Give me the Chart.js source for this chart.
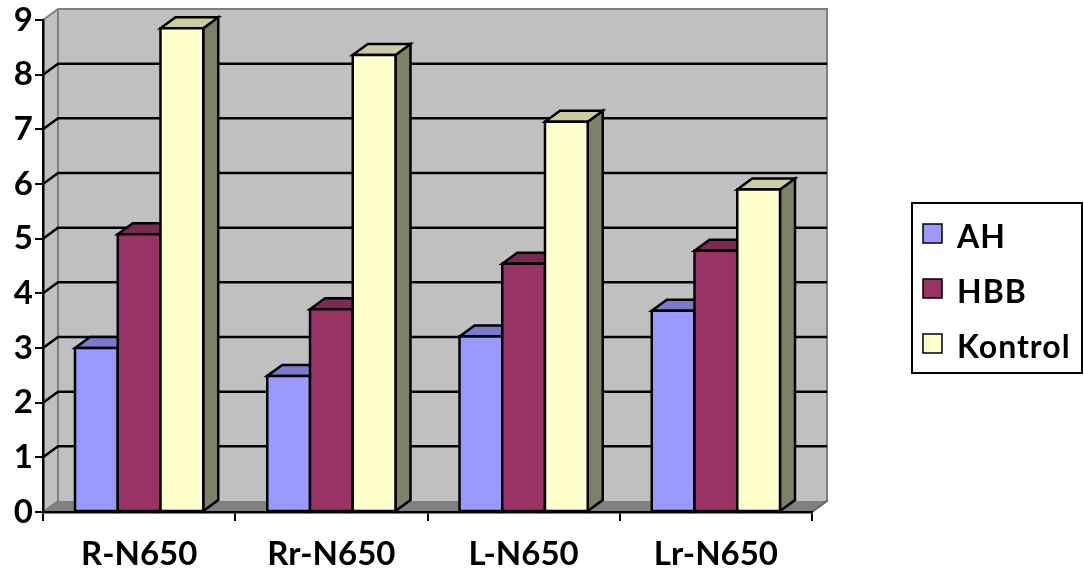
<!DOCTYPE html>
<html>
<head>
<meta charset="utf-8">
<script src="https://cdn.jsdelivr.net/npm/chart.js@4.4.1/dist/chart.umd.min.js"></script>
<style>
  html, body { margin: 0; padding: 0; background: #ffffff; }
  #wrap { width: 1084px; height: 574px; position: relative; }
</style>
</head>
<body>
<div id="wrap"><canvas id="chart" width="1084" height="574"></canvas></div>
<script>
// Category labels and series values
const categories = ['R-N650', 'Rr-N650', 'L-N650', 'Lr-N650'];
const seriesNames = ['AH', 'HBB', 'Kontrol'];
const ahValues = [3.0, 2.49, 3.21, 3.68];
const hbbValues = [5.08, 3.71, 4.54, 4.78];
const kontrolValues = [8.85, 8.36, 7.14, 5.90];
const yTickValues = [0, 1, 2, 3, 4, 5, 6, 7, 8, 9];

// Face colours for each series: front, top, side
const frontColors = ['#9999ff', '#993366', '#ffffcc'];
const topColors = ['#7a7acc', '#7a2952', '#cccca3'];
const sideColors = ['#4d4d80', '#4d1a33', '#808066'];

const FONT = { family: 'Lato', weight: 'bold', size: 33 };
const Y_FONT = { family: 'Lato', weight: 'bold', size: 33, lineHeight: 1.0 };
const LEGEND_FONT = { family: 'Lato', weight: 'bold', size: 32 };
const DEPTH_X = 15;
const DEPTH_Y = 11;

function poly(ctx, pts) {
  ctx.beginPath();
  ctx.moveTo(pts[0][0], pts[0][1]);
  for (let i = 1; i < pts.length; i++) ctx.lineTo(pts[i][0], pts[i][1]);
  ctx.closePath();
}

// Back wall, side wall, floor and back-wall gridlines
const wallsPlugin = {
  id: 'walls3d',
  beforeDraw(chart) {
    const { ctx, chartArea: a, scales } = chart;
    const y = scales.y;
    const L = a.left, R = a.right, T = a.top, B = a.bottom;
    const dx = DEPTH_X, dy = DEPTH_Y;
    ctx.save();
    ctx.fillStyle = '#c0c0c0';
    ctx.fillRect(L + dx, T - dy, R - L, B - T);
    poly(ctx, [[L, T], [L + dx, T - dy], [L + dx, B - dy], [L, B]]);
    ctx.fill();
    ctx.fillStyle = '#808080';
    poly(ctx, [[L, B], [R, B], [R + dx, B - dy], [L + dx, B - dy]]);
    ctx.fill();

    // wall outlines
    ctx.strokeStyle = '#808080';
    ctx.lineWidth = 2;
    ctx.beginPath();
    ctx.moveTo(L, T); ctx.lineTo(L + dx, T - dy); ctx.lineTo(R + dx, T - dy); ctx.lineTo(R + dx, B - dy);
    ctx.moveTo(L + dx, T - dy); ctx.lineTo(L + dx, B - dy);
    ctx.moveTo(L, B); ctx.lineTo(L + dx, B - dy);
    ctx.stroke();
    ctx.strokeStyle = '#666666';
    ctx.beginPath();
    ctx.moveTo(R, B); ctx.lineTo(R + dx, B - dy); ctx.lineTo(R + dx, B - dy - 1);
    ctx.stroke();

    // gridlines running across the side wall and back wall
    ctx.strokeStyle = '#000000';
    ctx.lineWidth = 2.5;
    ctx.beginPath();
    y.ticks.forEach(t => {
      if (t.value <= y.min || t.value >= y.max) return;
      const py = y.getPixelForValue(t.value);
      ctx.moveTo(L, py);
      ctx.lineTo(L + dx, py - dy);
      ctx.lineTo(R + dx, py - dy);
    });
    ctx.stroke();
    ctx.restore();
  }
};

// Bars as boxes: front face, top face and right side face
const boxesPlugin = {
  id: 'boxes3d',
  beforeDatasetsDraw(chart) {
    const ctx = chart.ctx;
    const metas = chart.getSortedVisibleDatasetMetas();
    const n = chart.data.labels.length;
    const dx = DEPTH_X, dy = DEPTH_Y;
    ctx.save();
    ctx.lineWidth = 2.5;
    ctx.strokeStyle = '#000000';
    ctx.lineJoin = 'miter';
    for (let i = 0; i < n; i++) {
      metas.forEach(meta => {
        const el = meta.data[i];
        const k = meta.index;
        const p = el.getProps(['x', 'y', 'base', 'width'], true);
        const xl = p.x - p.width / 2, xr = p.x + p.width / 2;
        const top = p.y, base = p.base;
        // side
        poly(ctx, [[xr, top], [xr + dx, top - dy], [xr + dx, base - dy], [xr, base]]);
        ctx.fillStyle = sideColors[k]; ctx.fill(); ctx.stroke();
        // top
        poly(ctx, [[xl, top], [xl + dx, top - dy], [xr + dx, top - dy], [xr, top]]);
        ctx.fillStyle = topColors[k]; ctx.fill(); ctx.stroke();
        // front
        poly(ctx, [[xl, top], [xr, top], [xr, base], [xl, base]]);
        ctx.fillStyle = frontColors[k]; ctx.fill(); ctx.stroke();
      });
    }
    ctx.restore();
    return false;
  }
};

// Boxed legend on the right
const legendPlugin = {
  id: 'boxLegend',
  afterDraw(chart) {
    const ctx = chart.ctx;
    const bx = 912, by = 203, bw = 170, bh = 170;
    ctx.save();
    ctx.fillStyle = '#ffffff';
    ctx.fillRect(bx, by, bw, bh);
    ctx.strokeStyle = '#000000';
    ctx.lineWidth = 2;
    ctx.strokeRect(bx, by, bw, bh);
    ctx.font = `${LEGEND_FONT.weight} ${LEGEND_FONT.size}px ${LEGEND_FONT.family}`;
    ctx.textBaseline = 'middle';
    ctx.textAlign = 'left';
    if ('letterSpacing' in ctx) ctx.letterSpacing = '1px';
    chart.data.datasets.forEach((ds, k) => {
      const cy = by + 33 + k * 55;
      ctx.fillStyle = ds.backgroundColor;
      ctx.fillRect(923, cy - 12, 19, 19);
      ctx.lineWidth = 1.5;
      ctx.strokeRect(923, cy - 12, 19, 19);
      ctx.fillStyle = '#000000';
      ctx.fillText(ds.label, 957, cy + 2);
    });
    ctx.restore();
  }
};

new Chart(document.getElementById('chart'), {
  type: 'bar',
  data: {
    labels: categories,
    datasets: [
      { label: seriesNames[0], data: ahValues, backgroundColor: frontColors[0] },
      { label: seriesNames[1], data: hbbValues, backgroundColor: frontColors[1] },
      { label: seriesNames[2], data: kontrolValues, backgroundColor: frontColors[2] }
    ]
  },
  options: {
    responsive: false,
    devicePixelRatio: 1,
    animation: false,
    layout: { padding: { left: 0, top: 20, right: 272, bottom: 0 } },
    datasets: { bar: { barPercentage: 1.0, categoryPercentage: 0.667 } },
    plugins: { legend: { display: false }, tooltip: { enabled: false } },
    scales: {
      x: {
        grid: { offset: true, drawOnChartArea: false, drawTicks: true, tickLength: 9, color: '#000000', lineWidth: 2 },
        border: { display: true, color: '#000000', width: 2.5 },
        ticks: { font: FONT, color: '#000000', padding: 14, maxRotation: 0 },
        afterFit(s) { s.height = 62; }
      },
      y: {
        min: 0,
        max: 9,
        afterBuildTicks(s) { s.ticks = yTickValues.map(v => ({ value: v })); },
        grid: { drawOnChartArea: false, drawTicks: true, tickLength: 8, color: '#000000', lineWidth: 2 },
        border: { display: true, color: '#000000', width: 2.5 },
        ticks: { font: Y_FONT, color: '#000000', padding: 2 },
        afterFit(s) { s.width = 43; }
      }
    }
  },
  plugins: [wallsPlugin, boxesPlugin, legendPlugin]
});
</script>
</body>
</html>
